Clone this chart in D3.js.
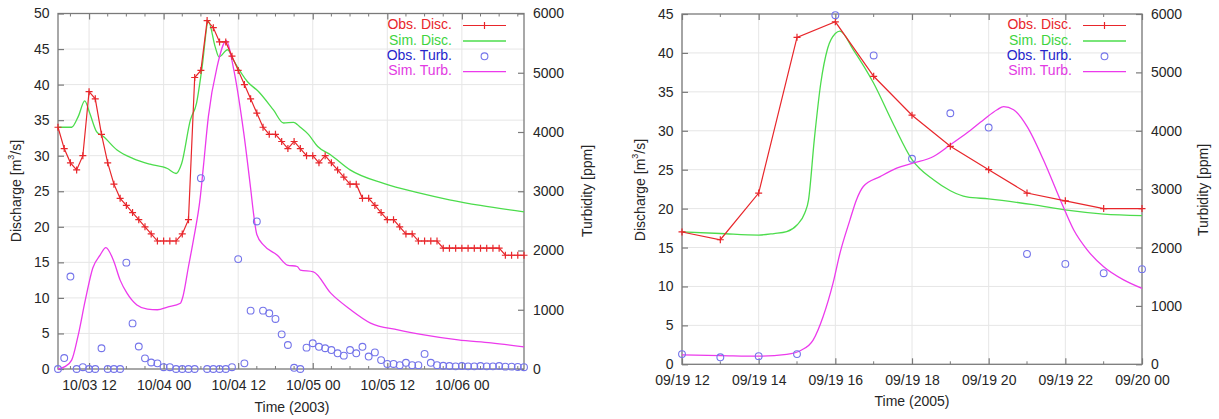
<!DOCTYPE html>
<html>
<head>
<meta charset="utf-8">
<script src="https://cdn.jsdelivr.net/npm/d3@7"></script>
<style>
  body { margin: 0; background: #fff; }
  svg { font-family: "Liberation Sans", Arial, sans-serif; }
  .tick text { fill: #262626; font-size: 14px; }
  .lbl { fill: #262626; font-size: 14px; }
</style>
</head>
<body>
<div id="vis"></div>
<script>
// ---- data: 2003 event (hourly obs from 10/03 07:00) ----
const obsDisc2003 = [34,31,29,28,30,39,38,33,29,26, 24,23,22,21,20,19,18,18,18,18,
  19,21,41,42,49,48,46,46,44,42, 40,38,36,34,33,33,32,31,32,31,
  30,30,29,30,29,28,27,26,26,24, 24,23,22,21,21,20,19,19,18,18,
  18,18,17,17,17,17,17,17,17,17, 17,17,16,16,16,16];
const obsTurb2003 = [0,185,1560,0,30,0,0,350,0,0, 0,1795,770,380,180,110,95,30,30,0,
  0,0,0,3220,0,0,0,0,30,1855, 95,985,2490,985,940,845,585,405,20,0,
  360,435,375,350,320,265,225,320,265,375, 210,280,150,85,85,65,105,65,65,255,
  105,65,55,50,45,50,45,45,50,45, 45,50,40,40,35,30];
// [hours from start, value]
const simDisc2003 = [[0,34],[2.2,34],[3.3,35.6],[4.3,37.7],[5.1,36],[6.2,33.4],[7.3,32.7],[9.5,30.8],
  [12.1,29.6],[14.8,28.8],[17.6,28.2],[19,27.5],[19.9,28.9],[21.3,35],[22.3,37.4],[23.2,42.5],
  [24.2,48.9],[25.3,45.3],[25.9,43.9],[27.3,44.9],[28.2,43.5],[30.5,40.4],[32.3,39],[34.7,36.4],
  [36.3,34.6],[37.9,34.7],[39,34],[40.3,33],[41.8,31.3],[43.9,30.1],[47,28],[52.4,26.1],
  [57.9,24.8],[63,23.8],[68,23],[75,22.1]];
const simTurb2003 = [[0,0],[1.1,40],[2.2,150],[3.2,545],[4.4,1165],[5.6,1705],[6.8,1925],[7.7,2050],
  [8.9,1840],[10,1500],[11.1,1280],[12.7,1080],[14.4,1010],[16,1000],[17.6,1045],[19.7,1110],
  [20.1,1220],[21,1730],[21.8,2180],[22.9,2900],[23.4,3415],[24.2,4260],[25.6,5100],[27.1,5540],
  [28.2,5100],[29.9,3980],[31,3050],[31.5,2600],[32,2270],[33.1,2090],[35.3,1920],[36.9,1755],
  [38.5,1730],[39,1670],[41.1,1640],[43.9,1280],[47.1,1000],[50.3,775],[54.7,660],[58.9,575],
  [64.4,490],[69.7,440],[75,375]];

// ---- data: 2005 event (hourly obs from 09/19 12:00) ----
const obsDisc2005 = [17,16,22,42,44,37,32,28,25,22,21,20,20];
const obsTurb2005 = [175,120,140,175,5980,5290,3520,4300,4055,1890,1720,1560,1630];
const simDisc2005 = [[0,17],[1,16.8],[2,16.6],[2.4,16.8],[2.73,17.05],[3,17.9],[3.2,19.4],[3.3,21.1],
  [3.45,28.8],[3.62,36.1],[3.8,40.6],[4,42.5],[4.12,42.8],[4.47,40.4],[5,36.1],[5.5,31],[6,26.3],
  [6.56,23.7],[7,22.3],[7.43,21.5],[8,21.25],[9.16,20.5],[10.04,19.8],[11,19.3],[12,19.1]];
const simTurb2005 = [[0,160],[1,150],[2,140],[2.73,170],[3.12,245],[3.42,415],[3.68,815],[3.94,1390],
  [4.12,1900],[4.38,2470],[4.55,2815],[4.73,3045],[5.17,3215],[5.6,3360],[6.02,3445],[6.56,3560],
  [7,3760],[7.43,3960],[7.87,4190],[8.22,4360],[8.39,4415],[8.65,4360],[9,4075],[9.43,3500],
  [9.87,2815],[10.22,2300],[10.57,1960],[11,1670],[11.52,1445],[12,1300]];

const legendNames = ["Obs. Disc.", "Sim. Disc.", "Obs. Turb.", "Sim. Turb."];
const dischargeTicks = d3.range(0, 51, 5);
const turbTicks = [0,1000,2000,3000,4000,5000,6000];

const colors = {
  obsDisc: "#e8262b", simDisc: "#4cdc4c", obsTurb: "#7474ea", simTurb: "#ec3aec",
  legend: ["#e8262b", "#3fd43f", "#2626cc", "#e23ae2"]
};

const svg = d3.select('#vis').append('svg')
  .attr('width', 1219).attr('height', 419);

const hour = 3600 * 1000;

function drawPanel(p) {
  const t0 = p.start.getTime();
  const toDate = h => new Date(t0 + h * hour);

  const x = d3.scaleTime().domain([toDate(0), toDate(p.hours)]).range([p.left, p.right]);
  const y = d3.scaleLinear().domain([0, p.yMax]).range([p.bottom, p.top]);
  const y2 = d3.scaleLinear().domain([0, 6000]).range([p.bottom, p.top]);

  const g = svg.append('g');

  const majors = d3.range(p.firstMajor, p.hours + 0.001, p.majorStep).map(toDate);
  const minors = d3.range(p.firstMinor, p.hours + 0.001, p.minorStep).map(toDate);
  const yTicks = dischargeTicks.filter(v => v <= p.yMax);

  // grid
  g.append('g').selectAll('line').data(majors).join('line')
    .attr('x1', d => x(d)).attr('x2', d => x(d)).attr('y1', p.top).attr('y2', p.bottom)
    .attr('stroke', '#e6e6e6');
  g.append('g').selectAll('line').data(yTicks.slice(1, -1)).join('line')
    .attr('x1', p.left).attr('x2', p.right).attr('y1', d => y(d)).attr('y2', d => y(d))
    .attr('stroke', '#e6e6e6');

  // axes
  const styleAxis = sel => {
    sel.select('.domain').remove();
    sel.selectAll('.tick line').attr('stroke', '#7a7a7a').attr('stroke-width', 1.2);
  };
  g.append('g').attr('transform', `translate(0,${p.bottom})`)
    .call(d3.axisBottom(x).tickValues(majors).tickFormat(d3.timeFormat('%m/%d %H'))
      .tickSizeInner(-6).tickSizeOuter(0).tickPadding(11))
    .call(styleAxis);
  g.append('g').attr('transform', `translate(0,${p.top})`)
    .call(d3.axisTop(x).tickValues(majors).tickFormat('').tickSizeInner(-6).tickSizeOuter(0))
    .call(styleAxis);
  g.append('g').attr('transform', `translate(${p.left},0)`)
    .call(d3.axisLeft(y).tickValues(yTicks).tickFormat(d3.format('d'))
      .tickSizeInner(-6).tickSizeOuter(0).tickPadding(8.5))
    .call(styleAxis);
  g.append('g').attr('transform', `translate(${p.right},0)`)
    .call(d3.axisRight(y2).tickValues(turbTicks).tickFormat(d3.format('d'))
      .tickSizeInner(-6).tickSizeOuter(0).tickPadding(9))
    .call(styleAxis);
  svg.selectAll('.tick text').attr('font-size', null).attr('font-family', null);

  // minor x ticks, bottom and top
  const mt = minors.filter(d => !majors.some(m => +m === +d));
  g.append('g').selectAll('line').data(mt).join('line')
    .attr('x1', d => x(d)).attr('x2', d => x(d)).attr('y1', p.bottom).attr('y2', p.bottom - 3)
    .attr('stroke', '#7a7a7a');
  g.append('g').selectAll('line').data(mt).join('line')
    .attr('x1', d => x(d)).attr('x2', d => x(d)).attr('y1', p.top).attr('y2', p.top + 3)
    .attr('stroke', '#7a7a7a');

  // frame
  g.append('rect').attr('x', p.left).attr('y', p.top)
    .attr('width', p.right - p.left).attr('height', p.bottom - p.top)
    .attr('fill', 'none').attr('stroke', '#7a7a7a').attr('stroke-width', 1.3);

  // sim lines
  const smooth = (sc) => d3.line().x(d => x(toDate(d[0]))).y(d => sc(d[1])).curve(d3.curveMonotoneX);
  g.append('path').datum(p.simDisc).attr('d', smooth(y))
    .attr('fill', 'none').attr('stroke', colors.simDisc).attr('stroke-width', 1.3);
  g.append('path').datum(p.simTurb).attr('d', smooth(y2))
    .attr('fill', 'none').attr('stroke', colors.simTurb).attr('stroke-width', 1.3);

  // obs discharge
  const obsD = p.obsDisc.map((v, i) => [i, v]);
  g.append('path').datum(obsD)
    .attr('d', d3.line().x(d => x(toDate(d[0]))).y(d => y(d[1])))
    .attr('fill', 'none').attr('stroke', colors.obsDisc).attr('stroke-width', 1.2);
  g.append('g').selectAll('path').data(obsD).join('path')
    .attr('transform', d => `translate(${x(toDate(d[0]))},${y(d[1])})`)
    .attr('d', 'M-3.5,0H3.5M0,-3.5V3.5')
    .attr('stroke', colors.obsDisc).attr('stroke-width', 1.2);

  // obs turbidity
  g.append('g').selectAll('circle').data(p.obsTurb.map((v, i) => [i, v])).join('circle')
    .attr('cx', d => x(toDate(d[0]))).attr('cy', d => y2(d[1])).attr('r', 3.4)
    .attr('fill', 'none').attr('stroke', colors.obsTurb).attr('stroke-width', 1.1);

  // axis labels
  const lab = g.append('text').attr('class', 'lbl')
    .attr('transform', `translate(${p.yLabelX},${p.labelY}) rotate(-90)`)
    .attr('text-anchor', 'middle').attr('dominant-baseline', 'middle');
  lab.append('tspan').text('Discharge [m');
  lab.append('tspan').text('3').attr('font-size', 9).attr('dy', -5);
  lab.append('tspan').text('/s]').attr('dy', 5);
  g.append('text').attr('class', 'lbl')
    .attr('transform', `translate(${p.y2LabelX},${p.labelY}) rotate(-90)`)
    .attr('text-anchor', 'middle').attr('dominant-baseline', 'middle')
    .text('Turbidity [ppm]');
  g.append('text').attr('class', 'lbl')
    .attr('x', p.xLabelX).attr('y', p.xLabelY)
    .attr('text-anchor', 'middle').attr('dominant-baseline', 'middle')
    .text(p.xTitle);

  // legend
  const rows = [25.5, 41, 56.3, 71.6];
  const leg = g.append('g');
  legendNames.forEach((name, i) => {
    leg.append('text').attr('x', p.legX).attr('y', rows[i])
      .attr('text-anchor', 'end').attr('dominant-baseline', 'middle')
      .attr('font-size', 14).attr('fill', colors.legend[i]).text(name);
  });
  const s0 = p.legX + 11, s1 = p.legX + 54, sm = (s0 + s1) / 2;
  leg.append('line').attr('x1', s0).attr('x2', s1).attr('y1', rows[0]).attr('y2', rows[0])
    .attr('stroke', colors.obsDisc).attr('stroke-width', 1.2);
  leg.append('path').attr('transform', `translate(${sm},${rows[0]})`)
    .attr('d', 'M-3.5,0H3.5M0,-3.5V3.5').attr('stroke', colors.obsDisc).attr('stroke-width', 1.2);
  leg.append('line').attr('x1', s0).attr('x2', s1).attr('y1', rows[1]).attr('y2', rows[1])
    .attr('stroke', colors.simDisc).attr('stroke-width', 1.3);
  leg.append('circle').attr('cx', sm).attr('cy', rows[2]).attr('r', 3.4)
    .attr('fill', 'none').attr('stroke', colors.obsTurb).attr('stroke-width', 1.1);
  leg.append('line').attr('x1', s0).attr('x2', s1).attr('y1', rows[3]).attr('y2', rows[3])
    .attr('stroke', colors.simTurb).attr('stroke-width', 1.3);
}

drawPanel({
  start: new Date(2003, 9, 3, 7), hours: 75,
  firstMajor: 5, majorStep: 12, firstMinor: 2, minorStep: 3,
  left: 58, right: 524, top: 13.5, bottom: 369, yMax: 50,
  obsDisc: obsDisc2003, obsTurb: obsTurb2003, simDisc: simDisc2003, simTurb: simTurb2003,
  yLabelX: 17, y2LabelX: 588, labelY: 191, xLabelX: 292, xLabelY: 408, xTitle: 'Time (2003)',
  legX: 452
});

drawPanel({
  start: new Date(2005, 8, 19, 12), hours: 12,
  firstMajor: 0, majorStep: 2, firstMinor: 0, minorStep: 1,
  left: 682, right: 1142, top: 14, bottom: 364.3, yMax: 45,
  obsDisc: obsDisc2005, obsTurb: obsTurb2005, simDisc: simDisc2005, simTurb: simTurb2005,
  yLabelX: 641, y2LabelX: 1204, labelY: 190, xLabelX: 912, xLabelY: 402, xTitle: 'Time (2005)',
  legX: 1072
});
</script>
</body>
</html>
